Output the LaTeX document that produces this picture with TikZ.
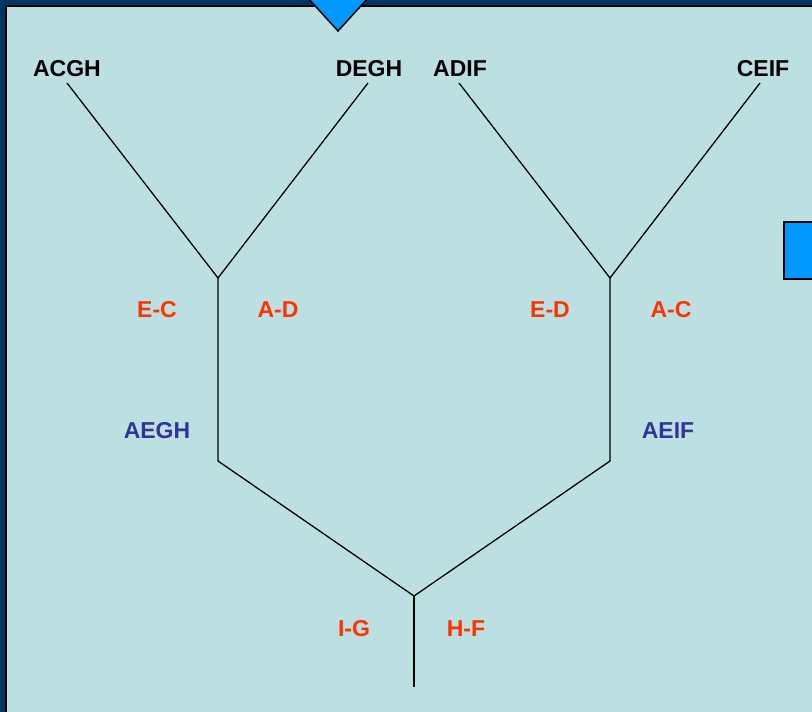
\documentclass[tikz,border=0pt]{standalone}
\usepackage{fontspec}
\setmainfont{Liberation Sans}
\definecolor{navy}{HTML}{003366}
\definecolor{paper}{HTML}{BCE0E2}
\definecolor{brightblue}{HTML}{0099FF}
\definecolor{cutred}{HTML}{FF3300}
\definecolor{setblue}{HTML}{333399}
\tikzset{
  leaf/.style={font=\fontsize{23}{26}\selectfont\bfseries, text=black, inner sep=0pt},
  cut/.style={font=\fontsize{23}{26}\selectfont\bfseries, text=cutred, inner sep=0pt},
  merged/.style={font=\fontsize{23}{26}\selectfont\bfseries, text=setblue, inner sep=0pt},
  branch/.style={draw=black, line width=1.3pt},
}
\begin{document}
\begin{tikzpicture}[x=1pt,y=-1pt]
\useasboundingbox (0,0) rectangle (812,712);
% frame and background
\fill[navy] (0,0) rectangle (812,712);
\fill[paper] (6,6) rectangle (820,720);
\draw[black, line width=1.5pt] (6,720) -- (6,6) -- (820,6);
% decorations
\filldraw[fill=brightblue, draw=black, line width=1.5pt] (307,-3) -- (369,-3) -- (338,31) -- cycle;
\filldraw[fill=brightblue, draw=black, line width=2pt] (783.5,221.5) rectangle (830,278.5);
% leaves
\node[leaf] (acgh) at (67,69) {ACGH};
\node[leaf] (degh) at (369,69) {DEGH};
\node[leaf] (adif) at (460,69) {ADIF};
\node[leaf] (ceif) at (763,69) {CEIF};
% branch points
\coordinate (l1) at (67,83);
\coordinate (l2) at (368,83);
\coordinate (l3) at (459,83);
\coordinate (l4) at (760,83);
\coordinate (ja) at (218,278);
\coordinate (jb) at (610,278);
\coordinate (ka) at (218,461);
\coordinate (kb) at (610,461);
\coordinate (root) at (414,596);
\coordinate (stem) at (414,687);
% tree
\draw[branch] (l1) -- (ja) -- (l2);
\draw[branch] (l3) -- (jb) -- (l4);
\draw[branch] (ja) -- (ka) -- (root) -- (kb) -- (jb);
\draw[branch] (root) -- (stem);
% labels
\node[cut] (ec) at (157,310) {E-C};
\node[cut] (ad) at (278,310) {A-D};
\node[cut] (ed) at (550,310) {E-D};
\node[cut] (ac) at (671,310) {A-C};
\node[merged] (aegh) at (157,431) {AEGH};
\node[merged] (aeif) at (668,431) {AEIF};
\node[cut] (ig) at (354,629) {I-G};
\node[cut] (hf) at (466,629) {H-F};
\end{tikzpicture}
\end{document}
